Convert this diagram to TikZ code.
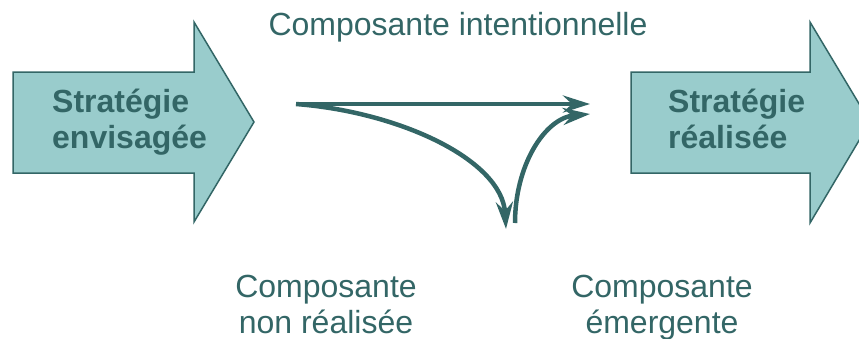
\documentclass[tikz,border=0pt]{standalone}
\usepackage{fontspec}
\setmainfont{Liberation Sans}
\usetikzlibrary{arrows.meta}
\definecolor{teal1}{HTML}{336666}
\definecolor{tealfill}{HTML}{99CCCC}
\tikzset{
  bigarrow/.style={fill=tealfill, draw=teal1, line width=1.5pt, line join=miter},
  lbl/.style={text=teal1, inner sep=0pt, font=\fontsize{32}{36}\selectfont},
  boxlbl/.style={text=teal1, inner sep=0pt, align=left, font=\fontsize{32}{36}\selectfont\bfseries},
  flow/.style={draw=teal1, line width=4.5pt, -{Stealth[length=27pt, width=17pt, inset=9pt]}}
}
\begin{document}
\begin{tikzpicture}[x=1pt, y=-1pt]
\useasboundingbox (0,0) rectangle (859,338);
\clip (0,0) rectangle (859,338);
% big arrows
\draw[bigarrow] (13,72) -- (194,72) -- (194,22) -- (254,122) -- (194,222) -- (194,173) -- (13,173) -- cycle;
\draw[bigarrow] (631,72) -- (810,72) -- (810,22) -- (870,122) -- (810,223) -- (810,173) -- (631,173) -- cycle;
\node[boxlbl, anchor=base west] (env) at (52,148) {Stratégie\\envisagée};
\node[boxlbl, anchor=base west] (real) at (668,148) {Stratégie\\réalisée};
% labels
\node[lbl, anchor=base] (intent) at (458,35) {Composante intentionnelle};
\node[lbl, anchor=base, align=center] (nonreal) at (326,333) {Composante\\non réalisée};
\node[lbl, anchor=base, align=center] (emerg) at (662,333) {Composante\\émergente};
% flows
\coordinate (s) at (296,104);
\coordinate (h) at (590,104);
\coordinate (d) at (506,229);
\coordinate (e0) at (515,223);
\coordinate (e1) at (590,114);
\draw[flow] (s) -- (h);
\draw[flow] (s) .. controls (400,112) and (502,160) .. (d);
\draw[flow] (e0) .. controls (515,165) and (545,118) .. (e1);
\end{tikzpicture}
\end{document}
